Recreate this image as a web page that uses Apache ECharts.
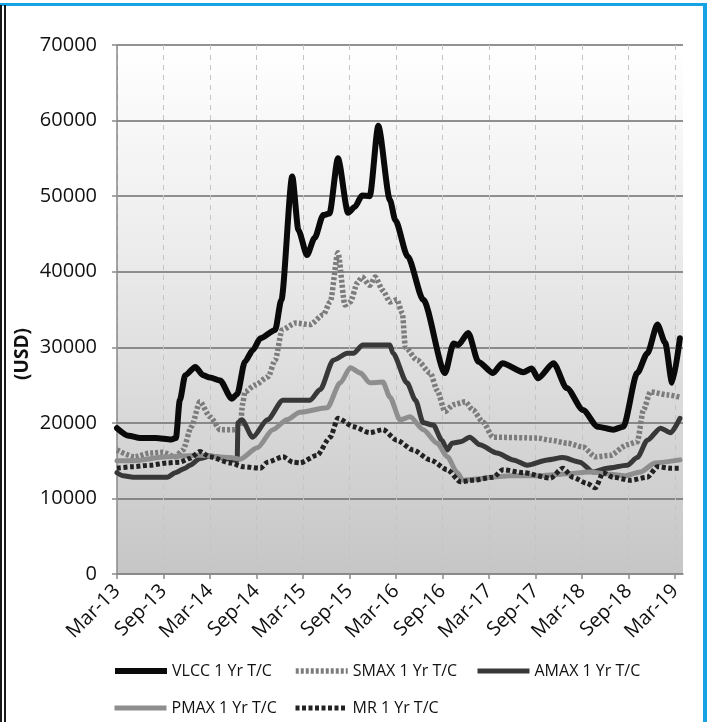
<!DOCTYPE html>
<html>
<head>
<meta charset="utf-8">
<script src="https://cdn.jsdelivr.net/npm/echarts@6/dist/echarts.min.js"></script>
<style>
  html, body { margin: 0; padding: 0; background: #ffffff; }
  #wrap { position: relative; width: 713px; height: 722px; overflow: hidden; }
  #chart { position: absolute; left: 0; top: 0; width: 713px; height: 722px; }
  .bTop { position: absolute; left: 0; top: 3px; width: 707px; height: 3px; background: #17a2e6; }
  .bRight { position: absolute; left: 703px; top: 3px; width: 4px; height: 719px; background: #17a2e6; }
  .bLeft { position: absolute; left: 0; top: 5px; width: 0; height: 717px; border-left: 6px double #1a1a1a; }
</style>
</head>
<body>
<div id="wrap">
  <div id="chart"></div>
  <div class="bTop"></div>
  <div class="bRight"></div>
  <div class="bLeft"></div>
</div>
<script>
// Month index 0 = Mar-13 ; axis runs to Apr-19 (73)
const tickLabels = ['Mar-13','Sep-13','Mar-14','Sep-14','Mar-15','Sep-15','Mar-16','Sep-16','Mar-17','Sep-17','Mar-18','Sep-18','Mar-19'];
const tickMonths = [0,6,12,18,24,30,36,42,48,54,60,66,72];
const seriesNames = ['VLCC 1 Yr T/C','SMAX 1 Yr T/C','AMAX 1 Yr T/C','PMAX 1 Yr T/C','MR 1 Yr T/C'];

const vlcc = [[0,19300],[1.5,18300],[3,18000],[5,18000],[7,17800],[7.6,18000],[8.1,23000],[8.8,26300],[10.1,27400],[11.1,26300],[12,26000],[13.3,25600],[14.8,23200],[15.5,23800],[16.5,28100],[17.5,29600],[18.5,31200],[20.4,32300],[21.2,36300],[22.6,52600],[23.4,45500],[24.5,42200],[25.5,44500],[26.6,47500],[27.4,47700],[28.5,55000],[29.8,47800],[30.7,48600],[31.6,50100],[32.6,50000],[33.7,59300],[35.2,49500],[35.9,46800],[37.5,42000],[39.5,36300],[42.3,26600],[43.4,30500],[44,30300],[45.3,31900],[46.6,28100],[48.5,26600],[49.7,27900],[52.4,26700],[53.5,27200],[54.3,25900],[56.3,27900],[58,24600],[60.1,21700],[62,19500],[64,19100],[65.3,19500],[67.1,26600],[68.4,29200],[69.7,33000],[70.7,30600],[71.6,25300],[72.6,31200]];

const smax = [[0,16400],[2.3,15500],[4.3,16000],[5.9,16100],[7.5,15500],[8.5,16400],[9.6,19500],[10.7,22800],[12,20800],[13.3,19100],[15.2,19100],[15.9,19500],[16.2,22500],[16.5,24100],[17.8,25000],[19.5,26100],[20.4,28300],[21.3,32300],[23,33200],[24.9,33000],[26.6,34300],[27.5,36000],[28.5,42500],[29.4,35600],[30.1,36000],[31,38500],[31.6,39300],[32.6,38200],[33.3,39300],[34.3,37500],[35.2,36000],[36.1,36300],[36.8,34500],[37.2,30000],[38.7,28300],[40.4,26600],[41.3,24300],[42.3,21500],[43.4,22400],[44.9,22800],[45.9,21700],[47.2,20100],[48.5,18100],[54.2,18000],[55.9,17700],[58.1,17300],[60.1,16800],[61.7,15500],[63.6,15700],[65.8,17100],[67.1,17500],[67.9,21700],[68.8,24100],[71,23700],[72.6,23400]];

const amax = [[0,13400],[0.8,13000],[2.1,12800],[6.5,12800],[7.5,13400],[8.8,14000],[9.4,14400],[10.7,15300],[12,15600],[14.6,15200],[15.5,15000],[15.6,20000],[16.1,20400],[17.5,18100],[19.4,20400],[21.4,23000],[24.9,23000],[26.2,24400],[27.9,28300],[29.7,29200],[30.5,29200],[31.7,30300],[34.3,30300],[35.2,30300],[35.6,29200],[37.4,25300],[38.5,23000],[39.5,20000],[40.8,19700],[41.9,17700],[42.6,16400],[43.2,17300],[44.3,17500],[45.5,18100],[46.8,17100],[49,16000],[51.1,15100],[52.9,14400],[55.5,15100],[57.5,15400],[59.7,14800],[61.4,13500],[63.2,14000],[65.8,14400],[67.1,15400],[68.4,17700],[70.1,19300],[71.4,18700],[72.6,20600]];

const pmax = [[0,15000],[2.1,15000],[6.5,15500],[10.7,15700],[14.6,15400],[15.9,15200],[18.1,16700],[20.1,19100],[21.9,20400],[23.6,21400],[27.1,22000],[28.8,25300],[30.1,27300],[31.4,26600],[32.6,25300],[34.3,25400],[35.2,23400],[36.5,20400],[37.8,20800],[39.5,19100],[41.3,17300],[42.6,15500],[43.9,13400],[44.6,12400],[46.8,12600],[48.1,12800],[50.7,13000],[54.6,13000],[57.2,13200],[61,13500],[63.6,13200],[65.5,13000],[67.5,13500],[69.4,14700],[72.6,15100]];

const mr = [[0,14000],[2.1,14200],[4.3,14400],[6.5,14700],[8.1,14800],[9.4,15300],[10.7,16200],[12,15500],[14.6,14700],[16.3,14200],[18.5,14000],[19.4,14800],[21.4,15500],[22.7,14800],[23.6,14700],[25.8,15700],[27.5,18100],[28.5,20600],[30.5,19500],[32.6,18700],[34.3,19100],[36.1,17700],[38.2,16400],[40.4,15100],[42.6,13800],[44.3,12200],[45.9,12400],[48.5,12800],[49.8,13800],[52.4,13400],[55.9,12700],[57.5,14000],[58.8,12800],[60.6,12000],[61.7,11400],[62.7,13400],[64,12800],[66.2,12400],[68.4,12800],[69.7,14200],[71.4,14000],[72.6,14000]];

const FONT = '"Open Sans", "Liberation Sans", sans-serif';
const chart = echarts.init(document.getElementById('chart'), null, { renderer: 'canvas' });

const styles = [
  { color: '#0a0a0a', width: 6, type: 'solid', z: 10 },
  { color: '#7c7c7c', width: 5.5, type: [3, 2], z: 6 },
  { color: '#383838', width: 5, type: 'solid', z: 7 },
  { color: '#8e8e8e', width: 5, type: 'solid', z: 8 },
  { color: '#222222', width: 5, type: [4, 2.5], z: 9 }
];

function mkLegend(i, left, top) {
  const s = styles[i];
  return {
    data: [seriesNames[i]], left: left, top: top, padding: 0, itemWidth: 52, itemHeight: 12, itemGap: 0,
    itemStyle: { opacity: 0 },
    lineStyle: { width: s.width, color: s.color, type: s.type, cap: 'butt' },
    textStyle: { fontFamily: FONT, fontSize: 16, color: '#111' }, selectedMode: false
  };
}
function mkSeries(i, data) {
  const s = styles[i];
  return {
    name: seriesNames[i], type: 'line', data: data, symbol: 'none', smooth: 0.25, smoothMonotone: 'x', z: s.z,
    lineStyle: { color: s.color, width: s.width, type: s.type, cap: s.type === 'solid' ? 'round' : 'butt', join: 'round' },
    itemStyle: { color: s.color }, animation: false
  };
}

chart.setOption({
  animation: false,
  backgroundColor: 'transparent',
  grid: {
    left: 117, right: 30, top: 45, bottom: 148, show: true, borderWidth: 0,
    backgroundColor: { type: 'linear', x: 0, y: 0, x2: 0, y2: 1,
      colorStops: [{ offset: 0, color: '#ffffff' }, { offset: 0.35, color: '#eeeeee' }, { offset: 1, color: '#c6c6c6' }] }
  },
  xAxis: {
    type: 'value', min: 0, max: 73, interval: 6,
    axisLine: { show: true, lineStyle: { color: '#8a8a8a', width: 1.5 } },
    axisTick: { show: true, length: 5, customValues: tickMonths, lineStyle: { color: '#8a8a8a', width: 1.5 } },
    axisLabel: {
      customValues: tickMonths, rotate: 45, margin: 14, fontFamily: FONT, fontSize: 20, color: '#111',
      formatter: function (v) { const i = tickMonths.indexOf(Math.round(v)); return i >= 0 ? tickLabels[i] : ''; }
    },
    splitLine: { show: true, lineStyle: { color: '#c4c4c4', width: 1, type: [5, 5] } }
  },
  yAxis: {
    type: 'value', min: 0, max: 70000, interval: 10000,
    axisLine: { show: true, lineStyle: { color: '#8a8a8a', width: 1.5 } },
    axisTick: { show: true, length: 5, inside: false, lineStyle: { color: '#8a8a8a', width: 1.5 } },
    axisLabel: { margin: 20, fontFamily: FONT, fontSize: 20, color: '#111', formatter: function (v) { return String(v); } },
    splitLine: { show: true, lineStyle: { color: '#6e6e6e', width: 1.5 } }
  },
  legend: [
    mkLegend(0, 112, 663),
    mkLegend(1, 293, 663),
    mkLegend(2, 475, 663),
    mkLegend(3, 112, 700),
    mkLegend(4, 293, 700)
  ],
  graphic: [{
    type: 'text', x: 23, y: 354, rotation: Math.PI / 2,
    style: { text: '(USD)', fontFamily: FONT, fontSize: 19, fontWeight: 'bold', fill: '#111', align: 'center', verticalAlign: 'middle' }
  }],
  series: [
    mkSeries(0, vlcc),
    mkSeries(1, smax),
    mkSeries(2, amax),
    mkSeries(3, pmax),
    mkSeries(4, mr)
  ]
});
</script>
</body>
</html>
